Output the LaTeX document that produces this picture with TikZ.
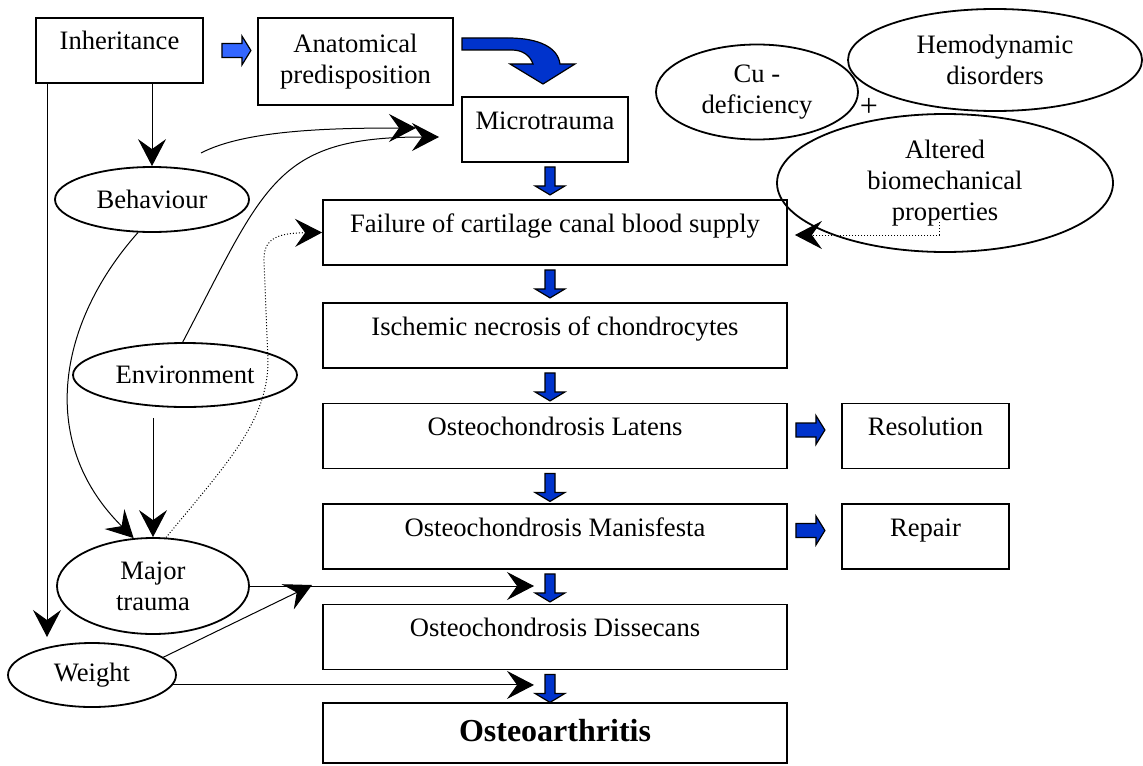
\documentclass[tikz,border=0pt]{standalone}
\usepackage{fontspec}
\setmainfont{Liberation Serif}
\usetikzlibrary{arrows.meta, shapes.geometric, calc}
\definecolor{blkblue}{RGB}{0, 51, 204}
\definecolor{litblue}{RGB}{51, 102, 255}

\begin{document}
\begin{tikzpicture}[x=0.5pt, y=-0.5pt,
  >={Stealth[length=13.5pt, width=14pt, inset=5pt]},
  every node/.style={font=\fontsize{13.3}{15.5}\selectfont},
  box/.style={draw, line width=0.9pt, inner sep=0pt,
    minimum height=32.5pt, text height=8pt, text depth=8.5pt},
  oval/.style={draw, ellipse, line width=0.9pt, inner sep=0pt, align=center},
  link/.style={->, line width=0.5pt},
  dotlink/.style={->, line width=0.5pt, densely dotted},
  pics/dnarrow/.style={code={
    \filldraw[fill=blkblue, line width=0.6pt]
      (-5,0) -- (5,0) -- (5,19) -- (15,19) -- (0,28) -- (-15,19) -- (-5,19) -- cycle;}},
  pics/rtarrow/.style={code={
    \filldraw[fill=#1, line width=0.6pt]
      (0,-7) -- (20,-7) -- (20,-14.5) -- (29,0) -- (20,14.5) -- (20,7) -- (0,7) -- cycle;}},
]
\useasboundingbox (0,0) rectangle (1143,765);

% ── top row ─────────────────────────────────────────────
\node[box, minimum width=83.5pt] (inh) at (119.5,50.5) {Inheritance};
\node[draw, line width=0.9pt, inner sep=0pt, align=center,
  minimum width=97.5pt, minimum height=43.5pt] (anat) at (355.5,61.5)
  {Anatomical\\predisposition};
\node[box, minimum width=83pt] (micro) at (545,129.5) {Microtrauma};

% ── main chain ──────────────────────────────────────────
\node[box, minimum width=232pt] (fail) at (555,232.5) {Failure of cartilage canal blood supply};
\node[box, minimum width=232pt] (isch) at (555,335.5) {Ischemic necrosis of chondrocytes};
\node[box, minimum width=232pt] (lat)  at (555,436)   {Osteochondrosis Latens};
\node[box, minimum width=232pt] (man)  at (555,536.5) {Osteochondrosis Manisfesta};
\node[box, minimum width=232pt] (diss) at (555,637)   {Osteochondrosis Dissecans};
\node[box, minimum width=232pt, minimum height=30pt, text height=11pt, text depth=2.5pt,
  font=\fontsize{16}{18}\selectfont\bfseries] (oa) at (555,733) {Osteoarthritis};

% ── outcomes ────────────────────────────────────────────
\node[box, minimum width=83.5pt] (res) at (925.5,436)   {Resolution};
\node[box, minimum width=83.5pt] (rep) at (925.5,536.5) {Repair};

% ── left factors ────────────────────────────────────────
\node[oval, minimum width=97pt,  minimum height=32.5pt] (beh) at (152,199.5) {Behaviour};
\node[oval, minimum width=112pt, minimum height=32pt]   (env) at (185,375)   {Environment};
\node[oval, minimum width=96pt,  minimum height=48pt]   (maj) at (153,586)   {Major\\trauma};
\node[oval, minimum width=84pt,  minimum height=32pt]   (wgt) at (92,675)    {Weight};

% ── right factors ───────────────────────────────────────
\node[oval, minimum width=101pt, minimum height=47.5pt] (cu)   at (757,92)  {Cu -\\deficiency};
\node[oval, minimum width=147pt, minimum height=51pt]   (hemo) at (995,60)  {Hemodynamic\\disorders};
\node[oval, minimum width=168pt, minimum height=69pt]   (alt)  at (945,183) {Altered\\biomechanical\\properties};
\node[font=\fontsize{16}{18}\selectfont] (plus) at (869,107) {+};

% ── block arrows ────────────────────────────────────────
\pic at ($(inh.east)+(18,0)$) {rtarrow=litblue};
\filldraw[fill=blkblue, line width=0.6pt]
  (462,38) -- (508,38) .. controls (540,38) and (558,48) .. (560,64)
  -- (575,64) -- (543,84) -- (510,64) -- (533,64)
  .. controls (530,55) and (522,50) .. (512,50) -- (462,50) -- cycle;
\pic at ($(micro.south)+(5,4)$) {dnarrow};
\foreach \n in {fail, isch, lat, man, diss}
  \pic at ($(\n.south)+(-5,4)$) {dnarrow};
\pic at ($(lat.east)+(8,-6)$) {rtarrow=blkblue};
\pic at ($(man.east)+(8,-6)$) {rtarrow=blkblue};

% ── connectors ──────────────────────────────────────────
\coordinate (wtop)   at (47,637);
\coordinate (behout) at (201,153);
\coordinate (tipA)   at (416,128);
\coordinate (tipB)   at (439,137);
\coordinate (tipO)   at (534,0);
\coordinate (jn)     at (312,585);

\draw[link] (beh.north |- inh.south) -- (beh.north);
\draw[link] (wtop |- inh.south) -- (wtop);
\draw[link] (behout) .. controls (245,130) and (330,128) .. (tipA);
\draw[link] (env.94) .. controls (265,185) and (275,137) .. (tipB);
\draw[link] (beh.-113) .. controls (60,320) and (35,440) .. (maj.112);
\draw[link] ($(maj.north |- env.south)+(0,10)$) -- (maj.north);
\draw[link] (maj.east) -- (maj.east -| tipO);
\draw[link] (wgt.14) -- (jn);
\draw[link] (wgt.-7) -- (wgt.-7 -| tipO);

% dotted links into the blood supply box
\draw[dotlink] (maj.75) .. controls (230,460) and (268,420) .. (268,360)
  -- (264,262) .. controls (263,240) and (275,233) .. (fail.west);
\draw[dotlink] ($(alt.center)+(-6,39)$) |- ($(fail.east)+(7,2.5)$);

\end{tikzpicture}
\end{document}
